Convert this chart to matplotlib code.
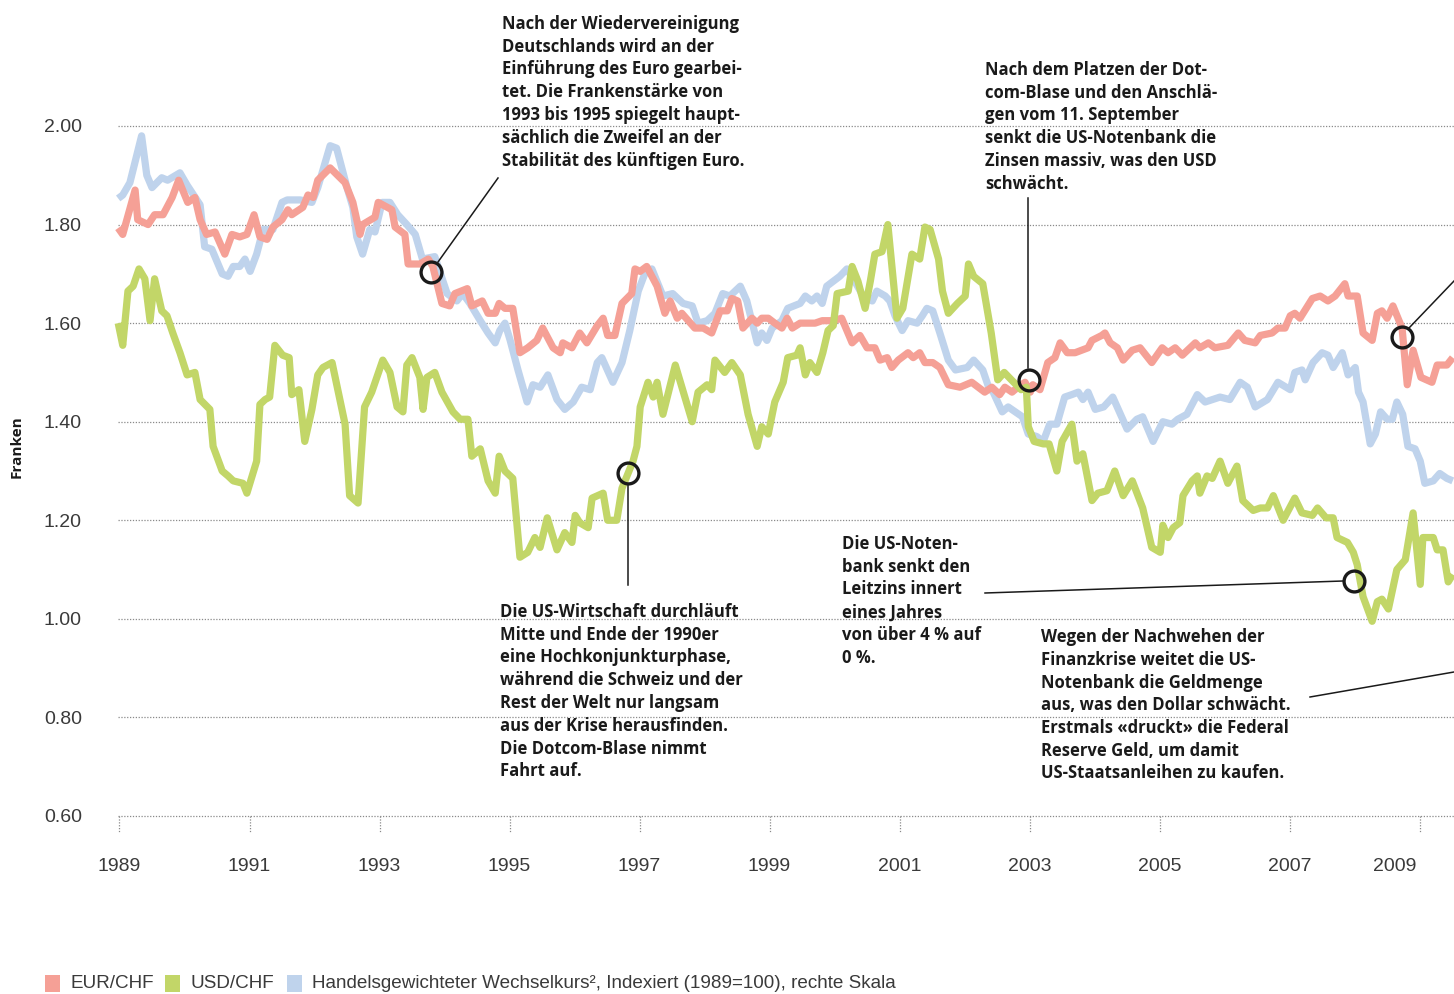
import numpy as np
import matplotlib.pyplot as plt
from matplotlib.patches import Rectangle
from matplotlib.lines import Line2D
import matplotlib.transforms as mtransforms

# EUR/CHF
eur_t = [1988.98, 1989.05, 1989.24, 1989.28, 1989.44, 1989.54, 1989.67, 1989.81, 1989.91, 1990.05,
         1990.16, 1990.24, 1990.34, 1990.47, 1990.62, 1990.73, 1990.85, 1990.96, 1991.07, 1991.16,
         1991.27, 1991.36, 1991.50, 1991.59, 1991.65, 1991.82, 1991.90, 1991.98, 1992.05, 1992.24,
         1992.47, 1992.59, 1992.70, 1992.74, 1992.93, 1992.98, 1993.19, 1993.24, 1993.39, 1993.44,
         1993.62, 1993.75, 1993.82, 1993.96, 1994.08, 1994.16, 1994.35, 1994.42, 1994.58, 1994.67,
         1994.78, 1994.84, 1994.93, 1995.05, 1995.16, 1995.28, 1995.42, 1995.51, 1995.67, 1995.78,
         1995.82, 1995.96, 1996.08, 1996.19, 1996.35, 1996.44, 1996.51, 1996.62, 1996.73, 1996.88,
         1996.93, 1997.01, 1997.11, 1997.27, 1997.39, 1997.47, 1997.58, 1997.65, 1997.85, 1997.98,
         1998.11, 1998.24, 1998.35, 1998.42, 1998.51, 1998.59, 1998.73, 1998.81, 1998.88, 1998.98,
         1999.08, 1999.19, 1999.27, 1999.35, 1999.47, 1999.59, 1999.70, 1999.81, 1999.98, 2000.11,
         2000.27, 2000.39, 2000.50, 2000.62, 2000.70, 2000.81, 2000.88, 2000.98, 2001.13, 2001.21,
         2001.31, 2001.39, 2001.51, 2001.62, 2001.75, 2001.93, 2002.11, 2002.31, 2002.42, 2002.54,
         2002.62, 2002.73, 2002.82, 2002.93, 2003.01, 2003.05, 2003.16, 2003.28, 2003.39, 2003.47,
         2003.58, 2003.70, 2003.90, 2003.96, 2004.11, 2004.16, 2004.24, 2004.35, 2004.44, 2004.58,
         2004.70, 2004.88, 2005.04, 2005.13, 2005.24, 2005.35, 2005.55, 2005.62, 2005.75, 2005.85,
         2006.05, 2006.21, 2006.31, 2006.47, 2006.55, 2006.73, 2006.82, 2006.93, 2007.01, 2007.08,
         2007.16, 2007.35, 2007.47, 2007.59, 2007.70, 2007.85, 2007.90, 2008.04, 2008.13, 2008.27,
         2008.35, 2008.42, 2008.50, 2008.59, 2008.73, 2008.81, 2008.90, 2009.02, 2009.19, 2009.27,
         2009.42, 2009.51]
eur_v = [1.793, 1.78, 1.87, 1.81, 1.80, 1.82, 1.82, 1.855, 1.89, 1.845,
         1.855, 1.81, 1.78, 1.785, 1.74, 1.78, 1.775, 1.78, 1.82, 1.775,
         1.77, 1.795, 1.81, 1.83, 1.82, 1.835, 1.86, 1.855, 1.89, 1.915,
         1.885, 1.845, 1.78, 1.80, 1.815, 1.845, 1.83, 1.795, 1.78, 1.72,
         1.72, 1.73, 1.715, 1.64, 1.635, 1.66, 1.67, 1.635, 1.645, 1.62,
         1.62, 1.64, 1.63, 1.63, 1.54, 1.55, 1.565, 1.59, 1.55, 1.54,
         1.56, 1.55, 1.58, 1.56, 1.595, 1.61, 1.575, 1.575, 1.64, 1.66,
         1.71, 1.705, 1.715, 1.675, 1.62, 1.645, 1.61, 1.62, 1.59, 1.59,
         1.58, 1.625, 1.625, 1.65, 1.645, 1.59, 1.61, 1.60, 1.61, 1.61,
         1.60, 1.59, 1.61, 1.59, 1.60, 1.60, 1.60, 1.605, 1.605, 1.61,
         1.56, 1.575, 1.55, 1.55, 1.525, 1.53, 1.51, 1.525, 1.54, 1.53,
         1.54, 1.52, 1.52, 1.51, 1.475, 1.47, 1.48, 1.46, 1.47, 1.455,
         1.47, 1.46, 1.47, 1.48, 1.46, 1.475, 1.465, 1.52, 1.53, 1.56,
         1.54, 1.54, 1.55, 1.565, 1.575, 1.58, 1.56, 1.55, 1.525, 1.545,
         1.55, 1.52, 1.55, 1.54, 1.55, 1.535, 1.56, 1.55, 1.56, 1.55,
         1.555, 1.58, 1.565, 1.56, 1.575, 1.58, 1.59, 1.59, 1.615, 1.62,
         1.61, 1.65, 1.655, 1.645, 1.655, 1.68, 1.655, 1.655, 1.58, 1.565,
         1.62, 1.625, 1.61, 1.635, 1.59, 1.475, 1.545, 1.49, 1.48, 1.515,
         1.515, 1.53]

# USD/CHF
usd_t = [1988.98, 1989.05, 1989.13, 1989.21, 1989.30, 1989.39, 1989.47, 1989.54, 1989.65, 1989.73,
         1989.82, 1989.93, 1990.04, 1990.16, 1990.24, 1990.39, 1990.44, 1990.58, 1990.67, 1990.75,
         1990.90, 1990.96, 1991.11, 1991.16, 1991.24, 1991.31, 1991.39, 1991.51, 1991.61, 1991.65,
         1991.76, 1991.85, 1991.96, 1992.05, 1992.13, 1992.27, 1992.39, 1992.47, 1992.54, 1992.67,
         1992.77, 1992.88, 1993.05, 1993.16, 1993.27, 1993.36, 1993.42, 1993.50, 1993.62, 1993.67,
         1993.73, 1993.85, 1993.96, 1994.13, 1994.24, 1994.36, 1994.42, 1994.55, 1994.67, 1994.78,
         1994.84, 1994.93, 1995.05, 1995.16, 1995.28, 1995.39, 1995.47, 1995.58, 1995.73, 1995.85,
         1995.96, 1996.01, 1996.08, 1996.21, 1996.27, 1996.44, 1996.51, 1996.65, 1996.73, 1996.90,
         1996.96, 1997.01, 1997.13, 1997.21, 1997.27, 1997.36, 1997.55, 1997.81, 1997.90, 1998.04,
         1998.11, 1998.16, 1998.31, 1998.42, 1998.55, 1998.67, 1998.81, 1998.88, 1998.98, 1999.08,
         1999.21, 1999.28, 1999.42, 1999.47, 1999.55, 1999.62, 1999.73, 1999.82, 1999.90, 1999.98,
         2000.04, 2000.21, 2000.27, 2000.36, 2000.47, 2000.55, 2000.62, 2000.73, 2000.82, 2000.96,
         2001.05, 2001.19, 2001.31, 2001.39, 2001.47, 2001.60, 2001.66, 2001.75, 2001.89, 2002.01,
         2002.06, 2002.14, 2002.28, 2002.41, 2002.51, 2002.61, 2002.72, 2002.87, 2002.95, 2002.98,
         2003.07, 2003.21, 2003.30, 2003.42, 2003.50, 2003.65, 2003.73, 2003.82, 2003.96, 2004.05,
         2004.19, 2004.31, 2004.44, 2004.58, 2004.74, 2004.88, 2005.01, 2005.05, 2005.13, 2005.21,
         2005.31, 2005.36, 2005.50, 2005.58, 2005.62, 2005.73, 2005.81, 2005.93, 2006.05, 2006.19,
         2006.28, 2006.44, 2006.55, 2006.66, 2006.75, 2006.90, 2007.08, 2007.19, 2007.35, 2007.43,
         2007.56, 2007.67, 2007.73, 2007.89, 2007.98, 2008.04, 2008.13, 2008.27, 2008.35, 2008.42,
         2008.52, 2008.65, 2008.78, 2008.90, 2009.01, 2009.05, 2009.21, 2009.27, 2009.36, 2009.44,
         2009.51]
usd_v = [1.60, 1.555, 1.665, 1.675, 1.71, 1.69, 1.605, 1.69, 1.625, 1.615,
         1.58, 1.54, 1.495, 1.50, 1.445, 1.425, 1.35, 1.30, 1.29, 1.28,
         1.275, 1.255, 1.32, 1.435, 1.445, 1.45, 1.555, 1.535, 1.53, 1.455,
         1.465, 1.36, 1.425, 1.495, 1.51, 1.52, 1.445, 1.395, 1.25, 1.235,
         1.43, 1.46, 1.525, 1.50, 1.43, 1.42, 1.515, 1.53, 1.49, 1.425,
         1.49, 1.50, 1.46, 1.42, 1.405, 1.405, 1.33, 1.345, 1.28, 1.255,
         1.33, 1.30, 1.285, 1.125, 1.135, 1.165, 1.145, 1.205, 1.14, 1.175,
         1.155, 1.21, 1.195, 1.185, 1.245, 1.255, 1.20, 1.20, 1.265, 1.32,
         1.35, 1.43, 1.48, 1.45, 1.48, 1.415, 1.515, 1.40, 1.46, 1.475,
         1.465, 1.525, 1.50, 1.52, 1.495, 1.415, 1.35, 1.39, 1.375, 1.44,
         1.48, 1.53, 1.535, 1.55, 1.495, 1.52, 1.50, 1.54, 1.585, 1.595,
         1.66, 1.665, 1.715, 1.685, 1.63, 1.685, 1.74, 1.745, 1.80, 1.61,
         1.63, 1.74, 1.73, 1.795, 1.79, 1.73, 1.665, 1.62, 1.64, 1.655,
         1.72, 1.695, 1.68, 1.58, 1.485, 1.50, 1.485, 1.465, 1.47, 1.39,
         1.36, 1.355, 1.355, 1.30, 1.36, 1.395, 1.32, 1.335, 1.24, 1.255,
         1.26, 1.30, 1.25, 1.28, 1.225, 1.145, 1.135, 1.19, 1.165, 1.185,
         1.195, 1.25, 1.28, 1.29, 1.255, 1.29, 1.285, 1.32, 1.275, 1.31,
         1.24, 1.22, 1.225, 1.225, 1.25, 1.20, 1.245, 1.215, 1.21, 1.225,
         1.205, 1.205, 1.165, 1.155, 1.135, 1.11, 1.045, 0.995, 1.035, 1.04,
         1.02, 1.10, 1.12, 1.215, 1.07, 1.165, 1.165, 1.14, 1.14, 1.075,
         1.09]

# Handelsgewichteter Wechselkurs
twi_t = [1988.98, 1989.05, 1989.16, 1989.34, 1989.42, 1989.50, 1989.65, 1989.74, 1989.93, 1990.04,
         1990.24, 1990.31, 1990.42, 1990.58, 1990.67, 1990.75, 1990.85, 1990.93, 1991.01, 1991.11,
         1991.21, 1991.36, 1991.50, 1991.58, 1991.78, 1991.96, 1992.05, 1992.24, 1992.34, 1992.50,
         1992.59, 1992.65, 1992.74, 1992.85, 1992.93, 1993.04, 1993.16, 1993.28, 1993.42, 1993.55,
         1993.66, 1993.85, 1994.04, 1994.19, 1994.28, 1994.39, 1994.55, 1994.67, 1994.78, 1994.85,
         1994.93, 1995.01, 1995.13, 1995.27, 1995.36, 1995.47, 1995.59, 1995.73, 1995.85, 1995.98,
         1996.11, 1996.24, 1996.35, 1996.42, 1996.59, 1996.73, 1996.85, 1996.98, 1997.08, 1997.19,
         1997.36, 1997.51, 1997.67, 1997.81, 1997.90, 1998.04, 1998.16, 1998.28, 1998.39, 1998.55,
         1998.65, 1998.81, 1998.88, 1998.96, 1999.04, 1999.19, 1999.28, 1999.47, 1999.55, 1999.65,
         1999.73, 1999.81, 1999.88, 1999.98, 2000.08, 2000.19, 2000.31, 2000.44, 2000.58, 2000.65,
         2000.78, 2000.85, 2000.93, 2001.04, 2001.13, 2001.27, 2001.35, 2001.42, 2001.51, 2001.62,
         2001.75, 2001.86, 2002.04, 2002.14, 2002.28, 2002.37, 2002.44, 2002.58, 2002.67, 2002.89,
         2002.98, 2003.11, 2003.21, 2003.31, 2003.42, 2003.54, 2003.65, 2003.75, 2003.82, 2003.90,
         2004.01, 2004.14, 2004.28, 2004.50, 2004.65, 2004.74, 2004.90, 2005.05, 2005.19, 2005.28,
         2005.42, 2005.58, 2005.70, 2005.93, 2006.08, 2006.24, 2006.35, 2006.47, 2006.66, 2006.82,
         2007.01, 2007.08, 2007.19, 2007.24, 2007.36, 2007.50, 2007.59, 2007.67, 2007.81, 2007.90,
         2008.01, 2008.06, 2008.13, 2008.24, 2008.32, 2008.40, 2008.50, 2008.58, 2008.65, 2008.74,
         2008.82, 2008.93, 2009.01, 2009.08, 2009.21, 2009.31, 2009.42, 2009.51]
twi_v = [1.853, 1.86, 1.885, 1.98, 1.90, 1.875, 1.895, 1.89, 1.905, 1.88,
         1.84, 1.755, 1.75, 1.70, 1.695, 1.715, 1.715, 1.73, 1.705, 1.74,
         1.79, 1.79, 1.845, 1.85, 1.85, 1.845, 1.875, 1.96, 1.955, 1.875,
         1.835, 1.775, 1.74, 1.79, 1.785, 1.845, 1.845, 1.82, 1.80, 1.78,
         1.73, 1.735, 1.66, 1.645, 1.66, 1.64, 1.605, 1.58, 1.56, 1.585,
         1.60, 1.565, 1.505, 1.44, 1.475, 1.47, 1.495, 1.445, 1.425, 1.44,
         1.47, 1.465, 1.52, 1.53, 1.48, 1.52, 1.585, 1.665, 1.70, 1.71,
         1.655, 1.66, 1.64, 1.635, 1.60, 1.605, 1.62, 1.66, 1.655, 1.675,
         1.645, 1.56, 1.58, 1.565, 1.59, 1.605, 1.63, 1.64, 1.655, 1.645,
         1.655, 1.64, 1.675, 1.685, 1.695, 1.71, 1.685, 1.655, 1.645, 1.665,
         1.655, 1.645, 1.615, 1.585, 1.605, 1.60, 1.615, 1.63, 1.625, 1.58,
         1.525, 1.505, 1.51, 1.525, 1.505, 1.47, 1.46, 1.42, 1.43, 1.41,
         1.375, 1.37, 1.36, 1.395, 1.395, 1.45, 1.455, 1.46, 1.445, 1.46,
         1.425, 1.43, 1.45, 1.385, 1.405, 1.41, 1.36, 1.40, 1.395, 1.405,
         1.415, 1.455, 1.44, 1.45, 1.445, 1.48, 1.47, 1.43, 1.445, 1.48,
         1.465, 1.50, 1.505, 1.485, 1.52, 1.54, 1.535, 1.51, 1.54, 1.495,
         1.51, 1.46, 1.44, 1.355, 1.375, 1.42, 1.405, 1.405, 1.44, 1.415,
         1.35, 1.345, 1.32, 1.275, 1.28, 1.295, 1.285, 1.28]

# markierte Ereignisse
mark_t = [1993.79, 1996.82, 2002.99, 2008.73, 2007.99]
mark_v = [1.703, 1.296, 1.484, 1.572, 1.077]

y_ticks = [0.6, 0.8, 1.0, 1.2, 1.4, 1.6, 1.8, 2.0]
y_labels = ['0.60', '0.80', '1.00', '1.20', '1.40', '1.60', '1.80', '2.00']
x_ticks = [1989, 1991, 1993, 1995, 1997, 1999, 2001, 2003, 2005, 2007, 2009]

notes = [
    (502, 22, ['Nach der Wiedervereinigung', 'Deutschlands wird an der', 'Einführung des Euro gearbei-',
               'tet. Die Frankenstärke von', '1993 bis 1995 spiegelt haupt-', 'sächlich die Zweifel an der',
               'Stabilität des künftigen Euro.']),
    (985, 68, ['Nach dem Platzen der Dot-', 'com-Blase und den Anschlä-', 'gen vom 11. September',
               'senkt die US-Notenbank die', 'Zinsen massiv, was den USD', 'schwächt.']),
    (842, 542, ['Die US-Noten-', 'bank senkt den', 'Leitzins innert', 'eines Jahres',
                'von über 4 % auf', '0 %.']),
    (500, 610, ['Die US-Wirtschaft durchläuft', 'Mitte und Ende der 1990er', 'eine Hochkonjunkturphase,',
                'während die Schweiz und der', 'Rest der Welt nur langsam', 'aus der Krise herausfinden.',
                'Die Dotcom-Blase nimmt', 'Fahrt auf.']),
    (1041, 635, ['Wegen der Nachwehen der', 'Finanzkrise weitet die US-', 'Notenbank die Geldmenge',
                 'aus, was den Dollar schwächt.', 'Erstmals «druckt» die Federal', 'Reserve Geld, um damit',
                 'US-Staatsanleihen zu kaufen.']),
]
leaders = [((438, 262), (498, 178)), ((628, 485), (628, 585)), ((1028, 368), (1028, 198)),
           ((1409, 328), (1454, 281)), ((1343, 581), (985, 593)), ((1310, 697), (1454, 672))]

red = '#f5a096'
green = '#c2d668'
blue = '#bfd3ec'
ink = '#1a1a1a'
W, H = 1454, 994

def fx(x):
    return x / W

def fy(y):
    return 1 - y / H

fig = plt.figure(figsize=(W / 100, H / 100), dpi=100)
ax = fig.add_axes([fx(118), fy(816), (1454 - 118) / W, (816 - 126) / H])
ax.set_xlim(1988.977, 2009.529)
ax.set_ylim(0.6, 2.0)
for s in ax.spines.values():
    s.set_visible(False)

for v in y_ticks:
    ax.axhline(v, color='#8a8a8a', lw=0.9, ls=(0, (1, 1.3)), clip_on=False, zorder=0)
for yr in x_ticks:
    ax.plot([yr, yr], [0, -16 / 690], transform=ax.get_xaxis_transform(), clip_on=False,
            color='#8a8a8a', lw=0.9, ls=(0, (1, 1.3)))

tick_font = ['Liberation Sans', 'DejaVu Sans']
ax.set_yticks(y_ticks)
ax.set_yticklabels(y_labels, family=tick_font, fontsize=14, color='#3a3a3a')
ax.set_xticks(x_ticks)
ax.set_xticklabels([str(y) for y in x_ticks], family=tick_font, fontsize=14, color='#3a3a3a')
ax.tick_params(axis='y', length=0, pad=26)
ax.tick_params(axis='x', length=0, pad=30)
last = ax.get_xticklabels()[-1]
last.set_transform(last.get_transform() + mtransforms.ScaledTranslation(-0.25, 0, fig.dpi_scale_trans))

kw = dict(lw=5.2, solid_joinstyle='round', solid_capstyle='butt', clip_on=False)
ax.plot(twi_t, twi_v, color=blue, zorder=2, **kw)
ax.plot(eur_t, eur_v, color=red, zorder=3, **kw)
ax.plot(usd_t, usd_v, color=green, zorder=4, **kw)
ax.plot(mark_t, mark_v, 'o', ms=15, mfc='none', mec=ink, mew=2.4, zorder=6, clip_on=False)

for (x0, y0), (x1, y1) in leaders:
    fig.add_artist(Line2D([fx(x0), fx(x1)], [fy(y0), fy(y1)], color=ink, lw=1.1))

for x, y, lines in notes:
    for i, line in enumerate(lines):
        fig.text(fx(x), fy(y + i * 22.75), line, ha='left', va='center_baseline',
                 family=['Open Sans', 'DejaVu Sans'], fontweight='bold', fontsize=12, color=ink)

fig.text(fx(17), fy(447), 'Franken', rotation=90, ha='center', va='center',
         family=['Open Sans', 'DejaVu Sans'], fontweight='bold', fontsize=11, color=ink)

legend_items = [(45, red, 'EUR/CHF'), (165, green, 'USD/CHF'),
                (287, blue, 'Handelsgewichteter Wechselkurs², Indexiert (1989=100), rechte Skala')]
for x, c, label in legend_items:
    fig.add_artist(Rectangle((fx(x), fy(992)), 15 / W, 17 / H, transform=fig.transFigure,
                             facecolor=c, edgecolor='none'))
    fig.text(fx(x + 25), fy(984), label, ha='left', va='center', family=tick_font,
             fontsize=13.6, color='#3a3a3a')

fig.savefig('out.png', dpi=100)
